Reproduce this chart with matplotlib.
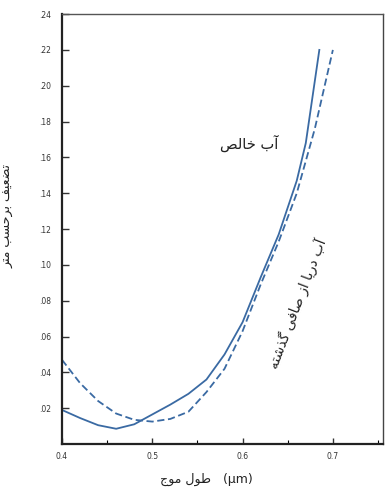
import matplotlib
matplotlib.use("Agg")
import matplotlib.pyplot as plt
from matplotlib.ticker import MultipleLocator, FixedLocator

# wavelength (um) and attenuation per metre
wl_pure = [0.40, 0.42, 0.44, 0.46, 0.48, 0.50, 0.52, 0.54, 0.56, 0.58,
           0.60, 0.62, 0.64, 0.66, 0.67, 0.685]
att_pure = [0.019, 0.0145, 0.0105, 0.0085, 0.011, 0.0165, 0.022, 0.028,
            0.036, 0.050, 0.068, 0.093, 0.117, 0.147, 0.168, 0.220]

wl_sea = [0.40, 0.42, 0.44, 0.46, 0.48, 0.50, 0.52, 0.54, 0.56, 0.58,
          0.60, 0.62, 0.64, 0.66, 0.68, 0.70]
att_sea = [0.047, 0.034, 0.024, 0.017, 0.0135, 0.0125, 0.014, 0.018,
           0.029, 0.042, 0.063, 0.089, 0.113, 0.140, 0.176, 0.220]

x_ticks = [0.4, 0.5, 0.6, 0.7]
x_ticklabels = ["0.4", "0.5", "0.6", "0.7"]
y_ticks = [0.02, 0.04, 0.06, 0.08, 0.10, 0.12, 0.14, 0.16, 0.18, 0.20, 0.22, 0.24]
y_ticklabels = [".02", ".04", ".06", ".08", ".10", ".12", ".14", ".16",
                ".18", ".20", ".22", ".24"]

label_pure = "آب خالص"
label_sea = "آب دریا از صافی گذشته"
y_title = "تضعیف برحسب متر"
x_title = "طول موج"

# matplotlib has no arabic shaping, so pick presentation forms by hand
# (isolated, final, initial, medial)
FORMS = {
    "ا": ("\uFE8D", "\uFE8E", None, None),
    "آ": ("\uFE81", "\uFE82", None, None),
    "ب": ("\uFE8F", "\uFE90", "\uFE91", "\uFE92"),
    "ت": ("\uFE95", "\uFE96", "\uFE97", "\uFE98"),
    "ج": ("\uFE9D", "\uFE9E", "\uFE9F", "\uFEA0"),
    "ح": ("\uFEA1", "\uFEA2", "\uFEA3", "\uFEA4"),
    "خ": ("\uFEA5", "\uFEA6", "\uFEA7", "\uFEA8"),
    "د": ("\uFEA9", "\uFEAA", None, None),
    "ذ": ("\uFEAB", "\uFEAC", None, None),
    "ر": ("\uFEAD", "\uFEAE", None, None),
    "ز": ("\uFEAF", "\uFEB0", None, None),
    "س": ("\uFEB1", "\uFEB2", "\uFEB3", "\uFEB4"),
    "ش": ("\uFEB5", "\uFEB6", "\uFEB7", "\uFEB8"),
    "ص": ("\uFEB9", "\uFEBA", "\uFEBB", "\uFEBC"),
    "ض": ("\uFEBD", "\uFEBE", "\uFEBF", "\uFEC0"),
    "ط": ("\uFEC1", "\uFEC2", "\uFEC3", "\uFEC4"),
    "ع": ("\uFEC9", "\uFECA", "\uFECB", "\uFECC"),
    "ف": ("\uFED1", "\uFED2", "\uFED3", "\uFED4"),
    "ل": ("\uFEDD", "\uFEDE", "\uFEDF", "\uFEE0"),
    "م": ("\uFEE1", "\uFEE2", "\uFEE3", "\uFEE4"),
    "ه": ("\uFEE9", "\uFEEA", "\uFEEB", "\uFEEC"),
    "و": ("\uFEED", "\uFEEE", None, None),
    "ی": ("\uFBFC", "\uFBFD", "\uFBFE", "\uFBFF"),
    "گ": ("\uFB92", "\uFB93", "\uFB94", "\uFB95"),
}


def shape(text):
    out = []
    for i, ch in enumerate(text):
        if ch not in FORMS:
            out.append(ch)
            continue
        prev = text[i - 1] if i > 0 else ""
        nxt = text[i + 1] if i + 1 < len(text) else ""
        f = FORMS[ch]
        jp = prev in FORMS and FORMS[prev][2] is not None
        jn = f[2] is not None and nxt in FORMS
        if jp and jn:
            out.append(f[3])
        elif jp:
            out.append(f[1])
        elif jn:
            out.append(f[2])
        else:
            out.append(f[0])
    return "".join(out)[::-1]


plt.rcParams["font.family"] = ["DejaVu Sans"]
line_col = "#3a6aa3"

fig = plt.figure(figsize=(3.86, 4.93), dpi=100)
ax = fig.add_axes([0.1606, 0.0994, 0.8316, 0.872])

ax.plot(wl_pure, att_pure, color=line_col, lw=1.3)
ax.plot(wl_sea, att_sea, color=line_col, lw=1.3, dashes=(4, 2))

ax.set_xlim(0.4, 0.7555)
ax.set_ylim(0, 0.24)
ax.xaxis.set_major_locator(FixedLocator(x_ticks))
ax.set_xticklabels(x_ticklabels)
ax.xaxis.set_minor_locator(MultipleLocator(0.05))
ax.yaxis.set_major_locator(FixedLocator(y_ticks))
ax.set_yticklabels(y_ticklabels)

ax.tick_params(axis="both", which="major", direction="in", labelsize=5.5,
               color="#333333", labelcolor="#333333")
ax.tick_params(axis="y", which="major", length=5, width=1, pad=8)
ax.tick_params(axis="x", which="major", length=4, width=1, pad=6)
ax.tick_params(axis="x", which="minor", direction="in", length=3, width=0.8)

for s in ["left", "bottom"]:
    ax.spines[s].set_linewidth(1.6)
    ax.spines[s].set_color("#222222")
ax.spines["top"].set_linewidth(1.0)
ax.spines["top"].set_color("#555555")
ax.spines["right"].set_linewidth(1.0)
ax.spines["right"].set_color("#444444")

ax.text(0.607, 0.168, shape(label_pure), fontsize=10.5, ha="center", va="center",
        color="#222222")
ax.text(0.662, 0.078, shape(label_sea), fontsize=10, ha="center", va="center",
        rotation=69, rotation_mode="anchor", color="#222222")

ax.set_ylabel(shape(y_title), fontsize=9, color="#222222")
ax.yaxis.set_label_coords(-0.148, 0.53)
ax.set_xlabel(shape(x_title) + "   (µm)", fontsize=9, color="#222222")
ax.xaxis.set_label_coords(0.45, -0.068)

fig.savefig("out.png", dpi=100, facecolor="white")
